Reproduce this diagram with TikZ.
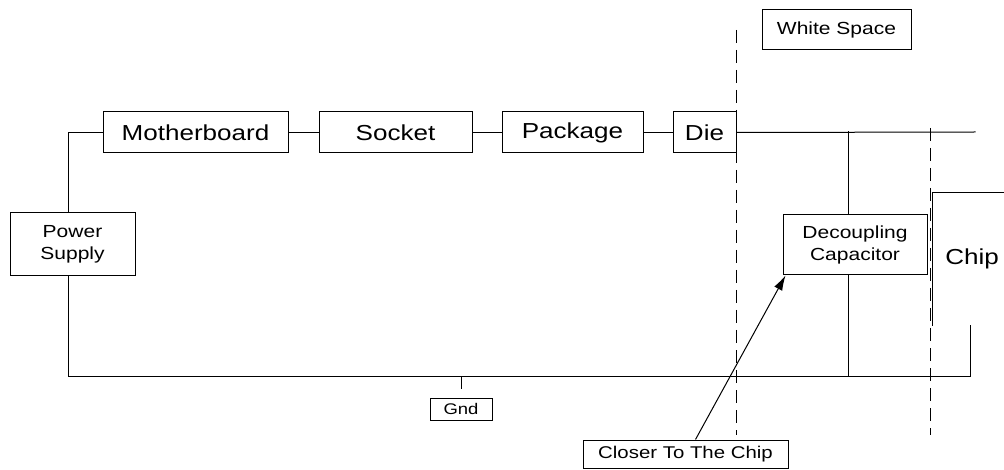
\documentclass[tikz,border=0pt]{standalone}
\usepackage{fontspec}
\setmainfont{Liberation Sans}[FakeStretch=1.2]
\usetikzlibrary{arrows.meta}
\begin{document}
\begin{tikzpicture}[x=1pt,y=-1pt,
  wire/.style={line width=1pt,line cap=rect},
  bigbox/.style={draw,line width=1pt,inner sep=0pt,font=\fontsize{21.7}{26}\selectfont,minimum height=41pt},
  smallbox/.style={draw,line width=1pt,inner sep=0pt,align=center,font=\fontsize{17.5}{22}\selectfont},
  divider/.style={line width=1pt,dash pattern=on 13pt off 7pt}]
\useasboundingbox (0,0) rectangle (1004,470);
% nodes
\node[smallbox,minimum width=125pt,minimum height=63pt] (ps) at (72.5,244.5) {Power\\Supply};
\node[bigbox,minimum width=185pt] (mb) at (195.5,132.5) {Motherboard};
\node[bigbox,minimum width=153pt] (sk) at (395.5,132.5) {Socket};
\node[bigbox,minimum width=141pt] (pk) at (572.5,132.5) {Package};
\node[bigbox,minimum width=63pt] (die) at (704.5,132.5) {Die};
\node[smallbox,minimum width=149pt,minimum height=40pt] (ws) at (836.5,30) {White Space};
\node[smallbox,minimum width=144pt,minimum height=60pt] (dc) at (855,245) {Decoupling\\Capacitor};
\node[inner sep=0pt,font=\fontsize{21.7}{26}\selectfont,minimum width=80pt,minimum height=132pt,anchor=north west] (chip) at (932,193) {Chip};
\node[smallbox,minimum width=62pt,minimum height=22pt,font=\fontsize{15.4}{18}\selectfont] (gnd) at (461,409) {Gnd};
\node[smallbox,minimum width=205pt,minimum height=28pt,font=\fontsize{17}{20}\selectfont] (ct) at (685.5,454) {Closer To The Chip};
% coordinates
\coordinate (tw) at (975,132);
\coordinate (dt) at (848,132);
\coordinate (gr) at (970,376);
\coordinate (gt) at (461,376);
\coordinate (gs) at (461,388);
\coordinate (d1a) at (736,30);
\coordinate (d1b) at (736,435);
\coordinate (d2a) at (930,128);
\coordinate (d2b) at (930,435);
% chip outline (left and top sides)
\draw[wire] (chip.south west) -- (chip.north west) -- (chip.north east);
% supply path
\draw[wire] ([xshift=-4.5pt]ps.north) |- (mb.west);
\draw[wire] (mb.east) -- (sk.west);
\draw[wire] (sk.east) -- (pk.west);
\draw[wire] (pk.east) -- (die.west);
\draw[wire] (die.east) -- (tw);
\draw[wire] (dt) -- (dt |- dc.north);
\draw[wire] (dc.south -| dt) -- (dt |- gr);
% ground path
\draw[wire] ([xshift=-4.5pt]ps.south) |- (gr) -- (gr |- chip.south);
\draw[wire] (gt) -- (gs);
% dividers
\draw[divider] (d1a) -- (d1b);
\draw[divider] (d2a) -- (d2b);
% arrow
\draw[line width=1pt,-{Latex[length=15pt,width=9pt]}] ([xshift=10pt]ct.north) -- ([xshift=3pt]dc.south west);
\end{tikzpicture}
\end{document}
